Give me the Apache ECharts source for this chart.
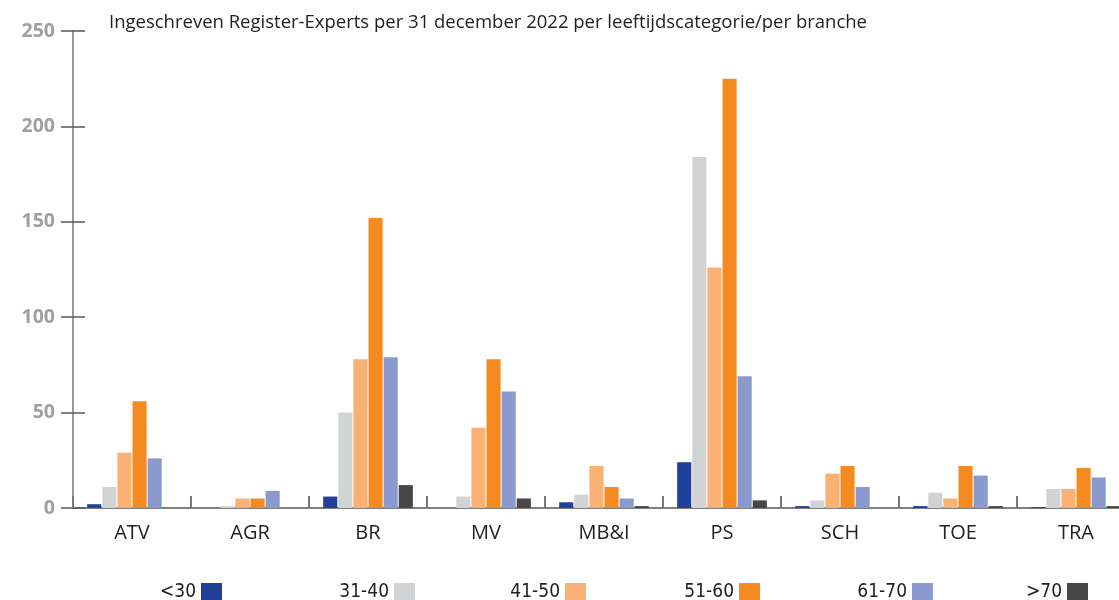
<!DOCTYPE html>
<html>
<head>
<meta charset="utf-8">
<script src="https://cdn.jsdelivr.net/npm/echarts@6/dist/echarts.min.js"></script>
<style>
  html, body { margin: 0; padding: 0; background: #fff; overflow: hidden; }
  #main { width: 1140px; height: 600px; }
</style>
</head>
<body>
<div id="main"></div>
<script>
// branches (x-as)
const branches = ['ATV', 'AGR', 'BR', 'MV', 'MB&I', 'PS', 'SCH', 'TOE', 'TRA'];
// leeftijdscategorieen
const ageGroups = ['<30', '31-40', '41-50', '51-60', '61-70', '>70'];
const ageColors = ['#21409a', '#d1d3d4', '#f9b274', '#f58a20', '#8a9ace', '#474747'];

// aantallen per leeftijdscategorie, in volgorde van branches
const under30 = [2, 0, 6, 0, 3, 24, 1, 1, 0.5];
const age31to40 = [11, 1, 50, 6, 7, 184, 4, 8, 10];
const age41to50 = [29, 5, 78, 42, 22, 126, 18, 5, 10];
const age51to60 = [56, 5, 152, 78, 11, 225, 22, 22, 21];
const age61to70 = [26, 9, 79, 61, 5, 69, 11, 17, 16];
const over70 = [0, 0, 12, 5, 1, 4, 0, 1, 1];

const yTicks = [0, 50, 100, 150, 200, 250];

const seriesData = [under30, age31to40, age41to50, age51to60, age61to70, over70];
// rechterkant van elk legendablokje (px)
const legendRight = [227, 420, 591, 765, 938, 1093];
const chartWidth = 1140;

let myChart = echarts.init(document.getElementById('main'));

let series = ageGroups.map((name, i) => ({
  name: name,
  type: 'bar',
  data: seriesData[i],
  itemStyle: { color: ageColors[i] },
  barGap: '7%',
  barCategoryGap: '24%'
}));

let legends = ageGroups.map((name, i) => ({
  data: [name],
  right: chartWidth - legendRight[i],
  top: 578,
  align: 'right',
  itemWidth: 21,
  itemHeight: 19,
  itemGap: 0,
  icon: 'rect',
  textStyle: {
    fontFamily: '"DejaVu Sans Condensed", "DejaVu Sans", sans-serif',
    fontStretch: 'condensed',
    fontSize: 19,
    color: '#222'
  },
  selectedMode: false
}));

let option = {
  animation: false,
  title: {
    text: 'Ingeschreven Register-Experts per 31 december 2022 per leeftijdscategorie/per branche',
    left: 104,
    top: 8,
    textStyle: {
      fontFamily: 'Open Sans',
      fontWeight: 'normal',
      fontSize: 18.5,
      color: '#222'
    }
  },
  color: ageColors,
  legend: legends,
  grid: {
    left: 73,
    right: 5,
    top: 31,
    bottom: 92,
    containLabel: false
  },
  xAxis: {
    type: 'category',
    data: branches,
    axisLine: { lineStyle: { color: '#555', width: 1.5 } },
    axisTick: {
      show: true,
      inside: true,
      length: 12,
      lineStyle: { color: '#777', width: 2 }
    },
    axisLabel: {
      margin: 15,
      fontFamily: 'Open Sans',
      fontSize: 20,
      color: '#222'
    }
  },
  yAxis: [
    {
      type: 'value',
      min: yTicks[0],
      max: yTicks[yTicks.length - 1],
      interval: 50,
      axisLine: { show: true, lineStyle: { color: '#777', width: 1.5 } },
      axisTick: { show: true, length: 12, lineStyle: { color: '#555', width: 1.5 } },
      splitLine: { show: false },
      axisLabel: {
        margin: 18,
        fontFamily: 'Open Sans',
        fontWeight: 'bold',
        fontSize: 19.5,
        color: '#a0a0a0'
      }
    },
    {
      // tweede as voor de naar binnen gerichte streepjes
      type: 'value',
      position: 'left',
      min: yTicks[0],
      max: yTicks[yTicks.length - 1],
      interval: 50,
      axisLine: { show: false },
      axisTick: { show: true, inside: true, length: 12, lineStyle: { color: '#555', width: 1.5 } },
      splitLine: { show: false },
      axisLabel: { show: false }
    }
  ],
  series: series
};

myChart.setOption(option);
</script>
</body>
</html>
